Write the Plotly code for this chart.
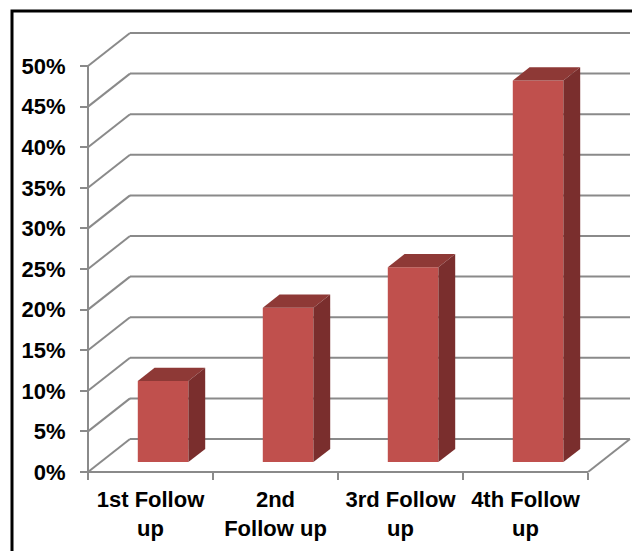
import plotly.graph_objects as go

# ---- data ----
categories = ["1st Follow<br>up", "2nd<br>Follow up", "3rd Follow<br>up", "4th Follow<br>up"]
values = [10, 19, 24, 47]          # percent
y_ticks = [0, 5, 10, 15, 20, 25, 30, 35, 40, 45, 50]
y_tick_labels = [f"{v}%" for v in y_ticks]

# ---- geometry / style constants ----
OFF = 8                      # default page body margin
W, H = 640 - OFF, 551 - OFF
ML, MT = 82 - OFF, 27 - OFF
PAD = 6                      # px padding around the floor/wall box
CAT_PX = 125.0               # px per category
PCT_PX = 8.12                # px per percent
pw, ph = 554, 451
MR = W - ML - pw
MB = H - MT - ph
DX = 42 / CAT_PX             # back-wall offset (categories)
DY = 33 / PCT_PX             # back-wall offset (percent)
BAR_W = 0.405
D0, D1 = 0.3, 0.7            # bar depth span (fraction of floor depth)
FRONT = "#C0504D"
TOP = "#8E3936"
SIDE = "#7A2E2D"
GRID = "#8A8A8A"
FONT = dict(family="Liberation Sans, Arial, sans-serif", size=22, color="black", weight="bold")

x0r = -0.5 - PAD / CAT_PX
x1r = x0r + pw / CAT_PX
y0r = -PAD / PCT_PX
y1r = y0r + ph / PCT_PX
n = len(categories)
xs = list(range(n))

fig = go.Figure()

# front faces (real bars)
fig.add_trace(go.Bar(
    x=[i + D0 * DX for i in xs], y=values, base=D0 * DY, width=BAR_W,
    marker=dict(color=FRONT, line=dict(width=0)), showlegend=False, hoverinfo="skip"))

# top and side faces computed from values
bdx, bdy = (D1 - D0) * DX, (D1 - D0) * DY
for i, v in zip(xs, values):
    xl = i + D0 * DX - BAR_W / 2
    xr = i + D0 * DX + BAR_W / 2
    yb = D0 * DY
    yt = v + D0 * DY
    fig.add_trace(go.Scatter(
        x=[xl, xr, xr + bdx, xl + bdx, xl], y=[yt, yt, yt + bdy, yt + bdy, yt],
        fill="toself", fillcolor=TOP, mode="lines", line=dict(width=0, color=TOP),
        showlegend=False, hoverinfo="skip"))
    fig.add_trace(go.Scatter(
        x=[xr, xr + bdx, xr + bdx, xr, xr], y=[yb, yb + bdy, yt + bdy, yt, yb],
        fill="toself", fillcolor=SIDE, mode="lines", line=dict(width=0, color=SIDE),
        showlegend=False, hoverinfo="skip"))

# invisible trace on the boundary-tick axis
fig.add_trace(go.Scatter(x=[-0.5], y=[0], xaxis="x2", mode="markers",
                         marker=dict(opacity=0), showlegend=False, hoverinfo="skip"))

shapes = []
line = dict(color=GRID, width=2)
xL, xR = -0.5, n - 0.5
for t in y_ticks:
    # side-wall diagonal and back-wall horizontal gridline
    shapes.append(dict(type="line", xref="x", yref="y", x0=xL, y0=t, x1=xL + DX, y1=t + DY,
                       line=line, layer="below"))
    shapes.append(dict(type="line", xref="x", yref="y", x0=xL + DX, y0=t + DY, x1=xR + DX, y1=t + DY,
                       line=line, layer="below"))
# y axis line
shapes.append(dict(type="line", xref="x", yref="y", x0=xL, y0=0, x1=xL, y1=y_ticks[-1],
                   line=line, layer="below"))
# front floor edge and right floor edge
shapes.append(dict(type="line", xref="x", yref="y", x0=xL, y0=0, x1=xR, y1=0, line=line, layer="below"))
shapes.append(dict(type="line", xref="x", yref="y", x0=xR, y0=0, x1=xR + DX, y1=DY, line=line, layer="below"))
# outer frame (page px: left 12, top 11, right 636)
shapes.append(dict(type="rect", xref="paper", yref="paper",
                   x0=(12 - OFF - ML) / pw, x1=(636 - OFF - ML) / pw,
                   y0=-(MB + 30) / ph, y1=(MT + ph - (11 - OFF)) / ph,
                   line=dict(color="black", width=3), layer="above"))

fig.update_layout(
    width=W, height=H, margin=dict(l=ML, r=MR, t=MT, b=MB, autoexpand=False),
    paper_bgcolor="white", plot_bgcolor="white", showlegend=False, shapes=shapes,
    xaxis=dict(range=[x0r, x1r], tickvals=xs, ticktext=categories, ticks="",
               tickangle=0, automargin=False,
               showgrid=False, zeroline=False, showline=False, tickfont=FONT,
               anchor="free", position=PAD / ph, ticklabelstandoff=12),
    xaxis2=dict(range=[x0r, x1r], overlaying="x", anchor="free", position=PAD / ph,
                tickvals=[i - 0.5 for i in range(n + 1)], showticklabels=False,
                ticks="outside", ticklen=7, tickwidth=2, tickcolor=GRID, automargin=False,
                showgrid=False, zeroline=False, showline=False),
    yaxis=dict(range=[y0r, y1r], tickvals=y_ticks, ticktext=y_tick_labels, automargin=False,
               ticks="outside", ticklen=8, tickwidth=2, tickcolor=GRID,
               showgrid=False, zeroline=False, showline=False, tickfont=FONT,
               anchor="free", position=PAD / pw, ticklabelstandoff=10),
)

fig.write_html("out.html")
